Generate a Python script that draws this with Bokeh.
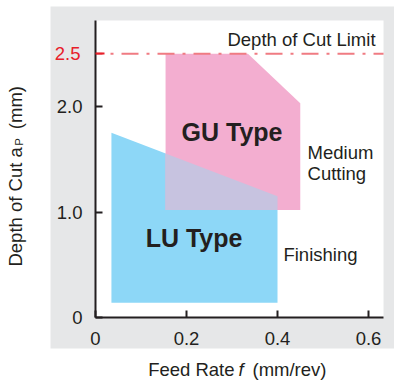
import math
from bokeh.plotting import figure
from bokeh.models import LinearAxis, FixedTicker, Range1d, Label
from bokeh.embed import file_html
from bokeh.resources import INLINE

# ---------------- data ----------------
x_ticks = [0, 0.2, 0.4, 0.6]
x_tick_labels = ["0", "0.2", "0.4", "0.6"]
y_ticks = [0, 1.0, 2.0]
y_tick_labels = ["0", "1.0", "2.0"]
limit_ticks = [2.5]
limit_tick_labels = ["2.5"]
depth_limit = 2.5

lu_feed = [0.035, 0.035, 0.40, 0.40]
lu_depth = [0.14, 1.75, 1.15, 0.14]
gu_feed = [0.154, 0.154, 0.335, 0.45, 0.45]
gu_depth = [1.02, 2.5, 2.5, 2.03, 1.02]

# plot-area extent (white) and surrounding grey panel, in axis units
x_end = 0.633
y_end = 2.815
panel_left, panel_right, panel_bottom, panel_top = -0.0989, 0.66, -0.294, 2.948

# ---------------- styles ----------------
FONT = "Liberation Sans"
FS = "18.5px"
INK = "#231f20"
GRAY = "#e6e7e8"
BLUE = "#8dd7f7"
PINK = "#f3aed0"
LILAC = "#c7c3e0"
RED = "#e8202a"
LIMIT_LINE = "#f07b82"


def clip_polygon(subject, clipper):
    """Sutherland-Hodgman clipping of subject by convex clipper."""
    def area(poly):
        n = len(poly)
        return sum(poly[i][0] * poly[(i + 1) % n][1] - poly[(i + 1) % n][0] * poly[i][1] for i in range(n)) / 2
    sign = 1 if area(clipper) > 0 else -1

    def inside(pt, a, b):
        return sign * ((b[0] - a[0]) * (pt[1] - a[1]) - (b[1] - a[1]) * (pt[0] - a[0])) >= 0

    def inter(p1, p2, a, b):
        x1, y1 = p1; x2, y2 = p2; x3, y3 = a; x4, y4 = b
        den = (x1 - x2) * (y3 - y4) - (y1 - y2) * (x3 - x4)
        t = ((x1 - x3) * (y3 - y4) - (y1 - y3) * (x3 - x4)) / den
        return (x1 + t * (x2 - x1), y1 + t * (y2 - y1))

    out = list(subject)
    n = len(clipper)
    for i in range(n):
        a, b = clipper[i], clipper[(i + 1) % n]
        inp, out = out, []
        if not inp:
            break
        s = inp[-1]
        for e in inp:
            if inside(e, a, b):
                if not inside(s, a, b):
                    out.append(inter(s, e, a, b))
                out.append(e)
            elif inside(s, a, b):
                out.append(inter(s, e, a, b))
            s = e
    return out


overlap = clip_polygon(list(zip(lu_feed, lu_depth)), list(zip(gu_feed, gu_depth)))
ov_feed = [pt[0] for pt in overlap]
ov_depth = [pt[1] for pt in overlap]

p = figure(width=394, height=381,
           x_range=Range1d(-0.2088, 0.6571), y_range=Range1d(-0.6066, 3.0047),
           x_axis_type=None, y_axis_type=None,
           output_backend="svg", toolbar_location=None,
           min_border_left=0, min_border_right=0, min_border_top=0, min_border_bottom=0,
           background_fill_color="white", border_fill_color="white",
           outline_line_color=None)

# grey panel and white plot area
p.quad(left=[panel_left], right=[panel_right], bottom=[panel_bottom], top=[panel_top],
       fill_color=GRAY, line_color=None)
p.quad(left=[0], right=[x_end], bottom=[0], top=[y_end], fill_color="white", line_color=None)

# regions
p.patch(lu_feed, lu_depth, fill_color=BLUE, line_color=None)
p.patch(gu_feed, gu_depth, fill_color=PINK, line_color=None)
p.patch(ov_feed, ov_depth, fill_color=LILAC, line_color=None)

# depth-of-cut limit
p.line([0, x_end], [depth_limit, depth_limit], line_color=LIMIT_LINE, line_width=2,
       line_dash="17 8 3 8", line_dash_offset=10)

# axes
xaxis = LinearAxis(ticker=FixedTicker(ticks=x_ticks), fixed_location=0, bounds=(0, x_end),
                   major_label_overrides=dict(zip(x_ticks, x_tick_labels)))
yaxis = LinearAxis(ticker=FixedTicker(ticks=y_ticks), fixed_location=0, bounds=(0, y_end),
                   major_label_overrides=dict(zip(y_ticks, y_tick_labels)))
raxis = LinearAxis(ticker=FixedTicker(ticks=limit_ticks), fixed_location=0)
for ax in (xaxis, yaxis, raxis):
    ax.axis_line_color = INK
    ax.axis_line_width = 2
    ax.major_tick_line_color = INK
    ax.major_tick_line_width = 2
    ax.major_tick_in = 7
    ax.major_tick_out = 0
    ax.minor_tick_line_color = None
    ax.major_label_text_font = FONT
    ax.major_label_text_font_size = FS
    ax.major_label_text_color = INK
xaxis.major_label_standoff = 14
yaxis.major_label_standoff = 13
raxis.axis_line_color = None
raxis.major_tick_line_color = RED
raxis.major_tick_in = 9
raxis.major_label_text_color = None
p.add_layout(xaxis, "below")
p.add_layout(yaxis, "left")
p.add_layout(raxis, "left")


def lab(x, y, text, size=FS, bold=False, italic=False, align="left", angle=0.0, color=INK):
    style = "bold" if bold else ("italic" if italic else "normal")
    p.add_layout(Label(x=x, y=y, text=text, text_font=FONT, text_font_size=size,
                       text_font_style=style, text_color=color, text_align=align,
                       text_baseline="middle", angle=angle))


# red tick label for the depth-of-cut limit
lab(-0.033, limit_ticks[0], limit_tick_labels[0], align="right", color=RED)

lab(0.300, 1.763, "GU Type", size="25px", bold=True, align="center")
lab(0.2165, 0.758, "LU Type", size="25px", bold=True, align="center")
lab(0.466, 1.565, "Medium")
lab(0.466, 1.366, "Cutting")
lab(0.413, 0.597, "Finishing")
lab(0.290, 2.635, "Depth of Cut Limit")

# x axis title
lab(0.3055, -0.493, "Feed Rate", align="right")
lab(0.314, -0.493, "f", italic=True)
lab(0.345, -0.493, "(mm/rev)")

# y axis title (rotated)
lab(-0.1758, 0.483, "Depth of Cut a", angle=math.pi / 2)
lab(-0.1680, 1.628, "P", size="11.5px", angle=math.pi / 2)
lab(-0.1758, 1.785, "(mm)", angle=math.pi / 2)

open("out.html", "w").write(file_html(p, INLINE))
